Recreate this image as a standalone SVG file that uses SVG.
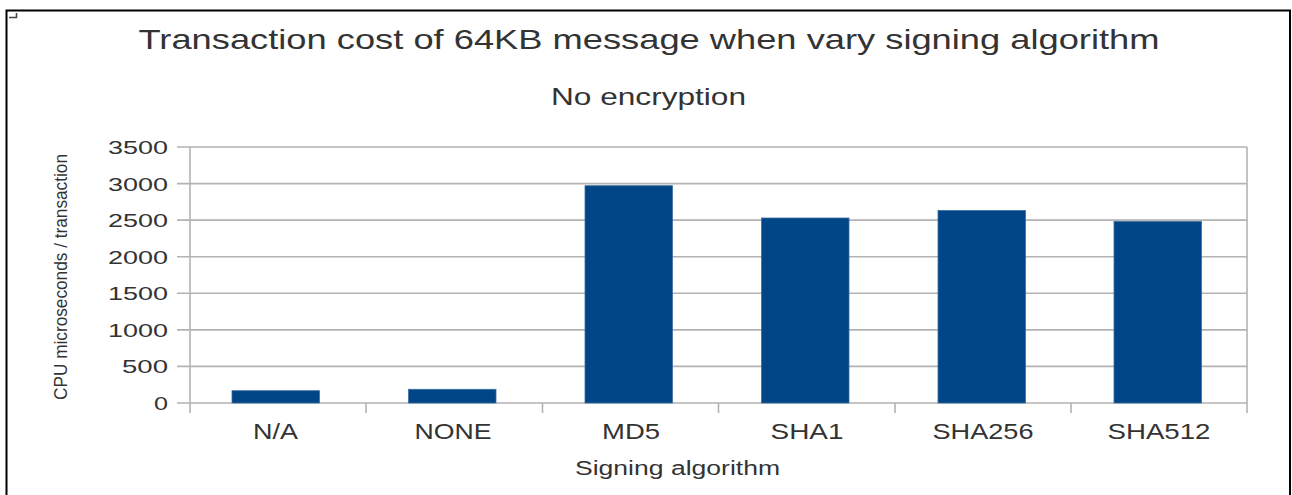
<svg xmlns="http://www.w3.org/2000/svg" width="1292" height="495" viewBox="0 0 1292 495">
  <style>
    text { font-family: "Liberation Sans", Arial, sans-serif; fill: #333333; }
    .title { font-size: 28px; }
    .subtitle { font-size: 24px; }
    .tick { font-size: 19px; text-anchor: end; }
    .cat { font-size: 22px; text-anchor: middle; }
    .axis { font-size: 20px; text-anchor: middle; }
    .grid { stroke: #b3b3b3; stroke-width: 1.6; fill: none; }
    .bar { fill: #004586; stroke: #3a6fa3; stroke-width: 0.8; }
  </style>

  <!-- frame -->
  <rect x="6.5" y="10.5" width="1283.5" height="500" fill="#ffffff" stroke="#000000" stroke-width="2"/>
  <path d="M9 17.5 H17 M16.5 13 V18" stroke="#444" stroke-width="1.6" fill="none"/>

  <!-- titles -->
  <text class="title" x="138.5" y="49" textLength="1021" lengthAdjust="spacingAndGlyphs">Transaction cost of 64KB message when vary signing algorithm</text>
  <text class="subtitle" x="551" y="105" textLength="195" lengthAdjust="spacingAndGlyphs">No encryption</text>

  <!-- grid and axes -->
  <g id="grid">
    <path class="grid" d="M177 147 H1247 M177 183.6 H1247 M177 220.1 H1247 M177 256.7 H1247 M177 293.3 H1247 M177 329.9 H1247 M177 366.4 H1247 M177 403 H1247"/>
    <path class="grid" d="M190 147 V413 M1247 147 V413 M366 403 V413 M542.5 403 V413 M718.5 403 V413 M895 403 V413 M1071 403 V413"/>
  </g>

  <!-- value axis labels -->
  <g id="y-labels">
    <text class="tick" x="168" y="154" textLength="60" lengthAdjust="spacingAndGlyphs">3500</text>
    <text class="tick" x="168" y="190.6" textLength="60" lengthAdjust="spacingAndGlyphs">3000</text>
    <text class="tick" x="168" y="227.1" textLength="60" lengthAdjust="spacingAndGlyphs">2500</text>
    <text class="tick" x="168" y="263.7" textLength="60" lengthAdjust="spacingAndGlyphs">2000</text>
    <text class="tick" x="168" y="300.3" textLength="60" lengthAdjust="spacingAndGlyphs">1500</text>
    <text class="tick" x="168" y="336.9" textLength="60" lengthAdjust="spacingAndGlyphs">1000</text>
    <text class="tick" x="168" y="373.4" textLength="46" lengthAdjust="spacingAndGlyphs">500</text>
    <text class="tick" x="168" y="410" textLength="14" lengthAdjust="spacingAndGlyphs">0</text>
  </g>

  <!-- bars -->
  <g id="bar-na"><rect class="bar" x="232" y="390.7" width="87.5" height="12.3"/></g>
  <g id="bar-none"><rect class="bar" x="408.5" y="389.3" width="87.5" height="13.7"/></g>
  <g id="bar-md5"><rect class="bar" x="585" y="185.7" width="87.5" height="217.3"/></g>
  <g id="bar-sha1"><rect class="bar" x="761.5" y="218" width="87.5" height="185"/></g>
  <g id="bar-sha256"><rect class="bar" x="938" y="210.5" width="87.5" height="192.5"/></g>
  <g id="bar-sha512"><rect class="bar" x="1114" y="221.5" width="87.5" height="181.5"/></g>

  <!-- category labels -->
  <g id="x-labels">
    <text class="cat" x="275.5" y="439" textLength="45" lengthAdjust="spacingAndGlyphs">N/A</text>
    <text class="cat" x="453" y="439" textLength="77" lengthAdjust="spacingAndGlyphs">NONE</text>
    <text class="cat" x="631" y="439" textLength="58" lengthAdjust="spacingAndGlyphs">MD5</text>
    <text class="cat" x="807" y="439" textLength="73" lengthAdjust="spacingAndGlyphs">SHA1</text>
    <text class="cat" x="983" y="439" textLength="101" lengthAdjust="spacingAndGlyphs">SHA256</text>
    <text class="cat" x="1159" y="439" textLength="103" lengthAdjust="spacingAndGlyphs">SHA512</text>
  </g>

  <!-- axis titles -->
  <text class="axis" x="677.5" y="475" textLength="205" lengthAdjust="spacingAndGlyphs">Signing algorithm</text>
  <text class="axis" font-size="18" x="0" y="0" transform="translate(67 277) rotate(-90)" style="font-size:18px" textLength="246" lengthAdjust="spacingAndGlyphs">CPU microseconds / transaction</text>
</svg>
